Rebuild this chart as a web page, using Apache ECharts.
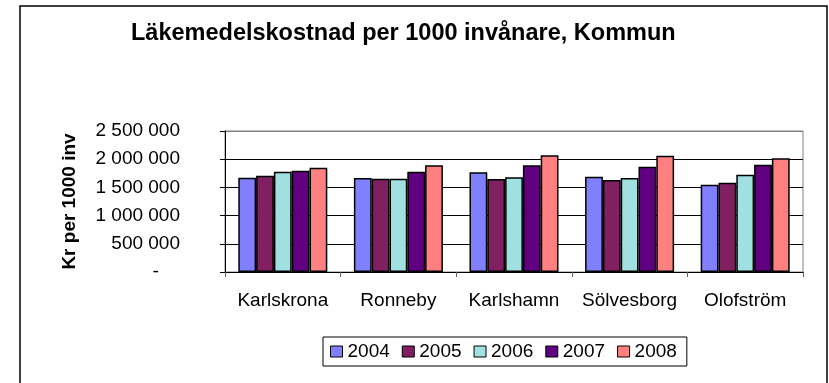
<!DOCTYPE html>
<html>
<head>
<meta charset="utf-8">
<script src="https://cdn.jsdelivr.net/npm/echarts@6/dist/echarts.min.js"></script>
<style>
  html, body { margin: 0; padding: 0; background: #fff; }
  #chart { width: 829px; height: 383px; }
</style>
</head>
<body>
<div id="chart"></div>
<script>
// Kommuner i Blekinge
const categories = ['Karlskrona', 'Ronneby', 'Karlshamn', 'Sölvesborg', 'Olofström'];
const years = ['2004', '2005', '2006', '2007', '2008'];

// Läkemedelskostnad, kr per 1000 invånare
const v2004 = [1672000, 1667000, 1767000, 1690000, 1548000];
const v2005 = [1707000, 1655000, 1649000, 1631000, 1583000];
const v2006 = [1778000, 1655000, 1679000, 1667000, 1725000];
const v2007 = [1796000, 1778000, 1892000, 1867000, 1902000];
const v2008 = [1849000, 1892000, 2069000, 2062000, 2016000];

const yTicks = [0, 500000, 1000000, 1500000, 2000000, 2500000];

const seriesValues = [v2004, v2005, v2006, v2007, v2008];
const colors = ['#8080FF', '#802060', '#A0E0E0', '#600080', '#FF8080'];

const FONT = '"Liberation Sans", Arial, sans-serif';

function fmt(v) {
  if (v === 0) return '-    ';
  return String(v).replace(/\B(?=(\d{3})+(?!\d))/g, ' ');
}

const chart = echarts.init(document.getElementById('chart'), null, { renderer: 'canvas' });

chart.setOption({
  animation: false,
  backgroundColor: '#fff',
  textStyle: { fontFamily: FONT },
  title: {
    text: 'Läkemedelskostnad per 1000 invånare, Kommun',
    left: 131,
    top: 22,
    padding: 0,
    textStyle: { fontFamily: FONT, fontSize: 23.5, fontWeight: 'bold', color: '#000' }
  },
  grid: {
    left: 225, right: 26, top: 131, bottom: 111,
    show: true, borderColor: '#808080', borderWidth: 1,
    containLabel: false
  },
  legend: {
    data: years,
    left: 323, top: 337,
    orient: 'horizontal',
    itemWidth: 12, itemHeight: 11, itemGap: 12,
    padding: [5, 10, 5, 7],
    borderColor: '#000', borderWidth: 1,
    icon: 'rect',
    itemStyle: { borderColor: '#000', borderWidth: 1 },
    textStyle: { fontFamily: FONT, fontSize: 19, color: '#000', padding: [0, 0, 0, 0] }
  },
  xAxis: {
    type: 'category',
    data: categories,
    boundaryGap: true,
    axisLine: { show: true, lineStyle: { color: '#000', width: 1 } },
    axisTick: { show: true, alignWithLabel: false, interval: 0, length: 5, lineStyle: { color: '#606060' } },
    axisLabel: { fontFamily: FONT, fontSize: 19, color: '#000', margin: 19, interval: 0, hideOverlap: false },
    splitLine: { show: false }
  },
  yAxis: {
    type: 'value',
    min: yTicks[0],
    max: yTicks[yTicks.length - 1],
    interval: yTicks[1] - yTicks[0],
    name: 'Kr per 1000 inv',
    nameLocation: 'middle',
    nameRotate: 90,
    nameGap: 146,
    nameTextStyle: { fontFamily: FONT, fontSize: 19, fontWeight: 'bold', color: '#000' },
    axisLine: { show: true, lineStyle: { color: '#000', width: 1 } },
    axisTick: { show: true, inside: false, length: 5, lineStyle: { color: '#000' } },
    axisLabel: { fontFamily: FONT, fontSize: 19, color: '#000', margin: 45, formatter: fmt },
    splitLine: {
      show: true,
      lineStyle: { color: ['#000', '#000', '#000', '#000', '#000', '#808080'], width: 1 }
    }
  },
  graphic: [{
    type: 'rect',
    shape: { x: 20, y: 6, width: 807, height: 420 },
    style: { fill: 'none', stroke: '#000', lineWidth: 1.5 },
    silent: true,
    z: 100
  }],
  series: years.map((y, i) => ({
    name: y,
    type: 'bar',
    data: seriesValues[i],
    barGap: '0%',
    barCategoryGap: '23%',
    itemStyle: { color: colors[i], borderColor: '#000', borderWidth: 1.5 }
  }))
});
</script>
</body>
</html>
